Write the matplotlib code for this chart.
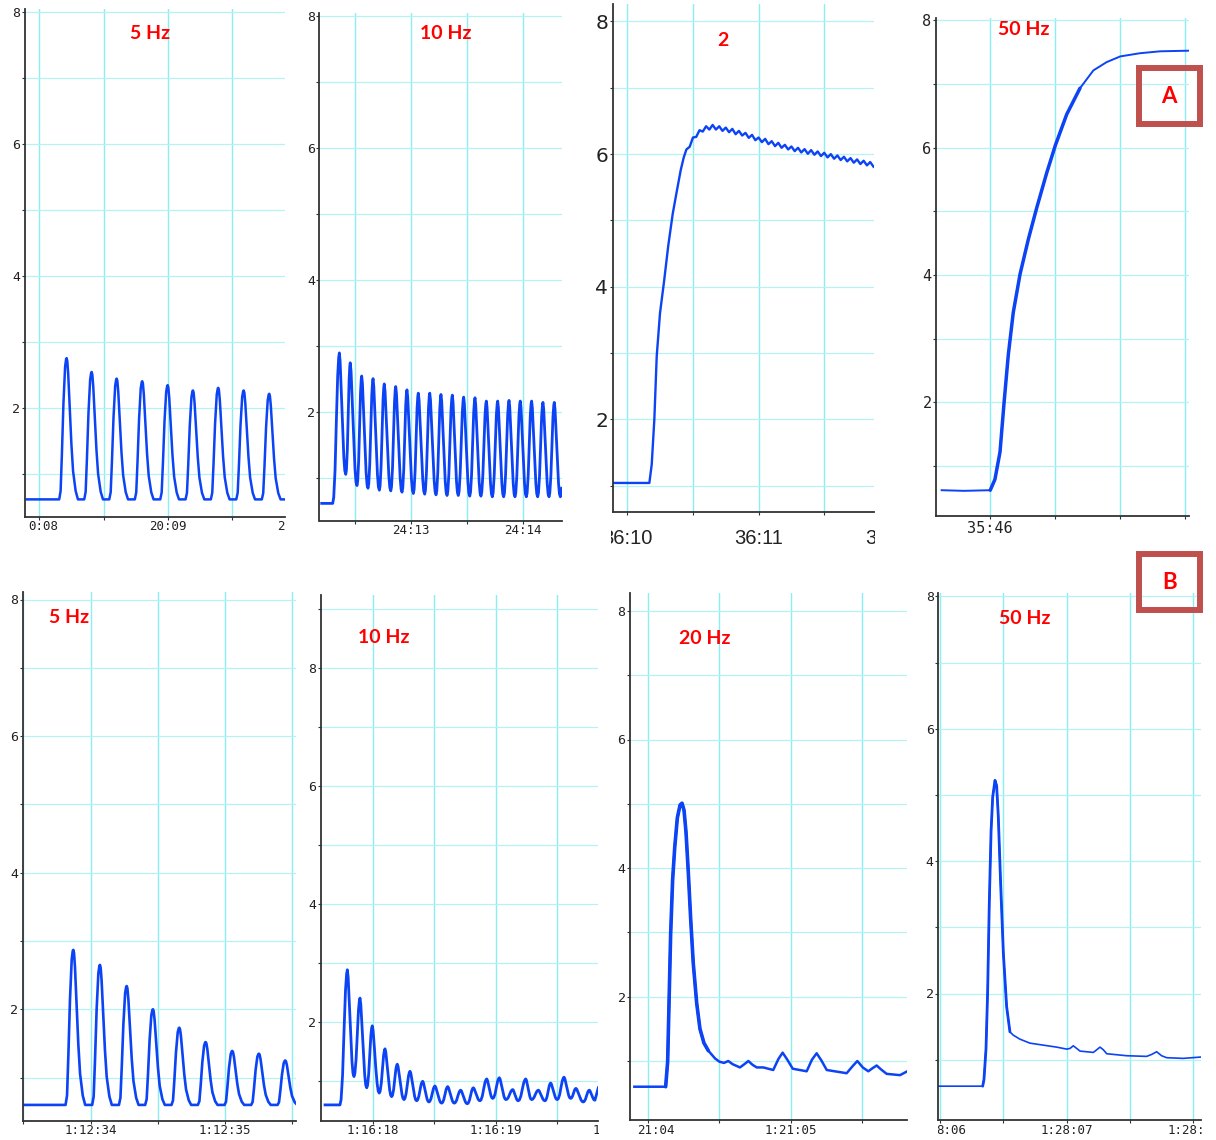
import numpy as np
import matplotlib

matplotlib.use("Agg")

import matplotlib.pyplot as plt
from matplotlib.ticker import MultipleLocator, FuncFormatter
from matplotlib.transforms import (Bbox, TransformedBbox, ScaledTranslation,
                                   blended_transform_factory)
from matplotlib.patches import Rectangle

W, H = 1216, 1140

TRACE = "#0b43f5"
HGRID = "#b6f1f3"
VGRID = "#8aeef2"
SPINE = "#333333"
RED = "#ff0000"
BOX = "#c0504d"

# --- pulse shape read from one isolated 5 Hz pulse (s from peak, fraction of height)
PULSE_DT = [-0.058, -0.047, -0.037, -0.025, -0.012, -0.004, 0.0,
            0.005, 0.012, 0.025, 0.037, 0.05, 0.07, 0.088]
PULSE_FRAC = [0.0, 0.06, 0.32, 0.68, 0.94, 0.995, 1.0,
              0.98, 0.89, 0.63, 0.39, 0.2, 0.06, 0.0]

# --- 10 Hz cycle shape: fall peak->trough and rise trough->peak
FALL_F = [0.0, 0.12, 0.3, 0.5, 0.7, 0.85, 1.0]
FALL_V = [1.0, 0.93, 0.68, 0.38, 0.14, 0.03, 0.0]
RISE_F = [0.0, 0.15, 0.35, 0.55, 0.75, 0.9, 1.0]
RISE_V = [0.0, 0.04, 0.22, 0.55, 0.85, 0.97, 1.0]

# --- A, 5 Hz
A1_BASE = 0.62
A1_PEAK_T = [0.213, 0.408, 0.603, 0.802, 1.0, 1.197, 1.394, 1.592, 1.791]
A1_PEAK_V = [2.76, 2.55, 2.45, 2.41, 2.35, 2.27, 2.31, 2.27, 2.22]

# --- A, 10 Hz
A2_BASE = 0.62
A2_PEAK_T = [-0.638, -0.541, -0.439, -0.338, -0.238, -0.136, -0.036, 0.065, 0.167, 0.267,
             0.368, 0.469, 0.570, 0.671, 0.772, 0.873, 0.973, 1.074, 1.175, 1.276]
A2_PEAK_V = [2.90, 2.75, 2.55, 2.51, 2.43, 2.39, 2.34, 2.29, 2.29, 2.27,
             2.26, 2.23, 2.22, 2.17, 2.17, 2.18, 2.17, 2.17, 2.15, 2.15]
A2_TROUGH_T = [-0.581, -0.481, -0.383, -0.282, -0.180, -0.080, 0.021, 0.122, 0.223, 0.321,
               0.421, 0.523, 0.623, 0.724, 0.825, 0.926, 1.027, 1.128, 1.229, 1.330]
A2_TROUGH_V = [1.06, 0.89, 0.85, 0.82, 0.81, 0.79, 0.77, 0.76, 0.75, 0.74,
               0.74, 0.73, 0.73, 0.72, 0.72, 0.72, 0.72, 0.72, 0.72, 0.72]

# --- A, 20 Hz (rise, then rippled plateau)
A3_RISE_T = [-0.11, 0.168, 0.186, 0.206, 0.224, 0.249, 0.280, 0.312, 0.346, 0.376, 0.407, 0.43]
A3_RISE_V = [1.04, 1.04, 1.32, 2.0, 2.95, 3.6, 4.08, 4.62, 5.1, 5.43, 5.76, 5.95]
A3_RIPPLE_V = [6.07, 6.11, 6.25, 6.26, 6.36, 6.34, 6.42, 6.37, 6.44, 6.37,
               6.42, 6.35, 6.40, 6.33, 6.38, 6.30, 6.35, 6.28, 6.32, 6.245,
               6.29, 6.21, 6.25, 6.18, 6.23, 6.15, 6.195, 6.12, 6.17, 6.095,
               6.14, 6.07, 6.115, 6.045, 6.095, 6.025, 6.075, 6.005, 6.06, 5.99,
               6.04, 5.97, 6.02, 5.95, 6.00, 5.93, 5.98, 5.91, 5.96, 5.89,
               5.94, 5.87, 5.92, 5.85, 5.90, 5.83, 5.88, 5.81]
A3_RIPPLE_T0, A3_RIPPLE_STEP = 0.45, 0.025

# --- A, 50 Hz
A4_T = [-0.372, -0.2, 0.002, 0.038, 0.077, 0.108, 0.141, 0.179, 0.231, 0.295, 0.359,
        0.436, 0.502, 0.590, 0.692, 0.795, 0.897, 1.002, 1.154, 1.308, 1.533]
A4_V = [0.62, 0.61, 0.62, 0.79, 1.22, 1.99, 2.75, 3.41, 4.01, 4.56, 5.05,
        5.60, 6.03, 6.52, 6.93, 7.21, 7.34, 7.43, 7.48, 7.51, 7.52]

# --- B, 5 Hz
B1_BASE = 0.60
B1_PEAK_T = [-0.129, 0.069, 0.268, 0.463, 0.659, 0.855, 1.053, 1.251, 1.447]
B1_PEAK_V = [2.87, 2.65, 2.34, 2.0, 1.73, 1.52, 1.39, 1.35, 1.25]

# --- B, 10 Hz
B2_BASE = 0.60
B2_PEAK_T = [-0.209, -0.106, -0.006, 0.098, 0.198, 0.302, 0.405, 0.505, 0.609, 0.715,
             0.818, 0.927, 1.030, 1.139, 1.245, 1.348, 1.448, 1.557, 1.654, 1.763]
B2_PEAK_V = [2.89, 2.41, 1.94, 1.55, 1.29, 1.17, 1.0, 0.92, 0.91, 0.85,
             0.89, 1.04, 1.06, 0.86, 1.04, 0.85, 0.97, 1.07, 0.88, 0.85]
B2_TROUGH_T = [-0.155, -0.051, 0.051, 0.152, 0.253, 0.356, 0.456, 0.560, 0.663, 0.769,
               0.872, 0.976, 1.084, 1.184, 1.293, 1.402, 1.502, 1.611, 1.714, 1.809]
B2_TROUGH_V = [1.08, 0.89, 0.80, 0.74, 0.69, 0.67, 0.65, 0.63, 0.63, 0.62,
               0.67, 0.71, 0.69, 0.67, 0.69, 0.67, 0.69, 0.71, 0.65, 0.68]

# --- B, 20 Hz
B3_T = [-0.098, 0.122, 0.136, 0.145, 0.157, 0.171, 0.186, 0.204, 0.223, 0.237, 0.251,
        0.265, 0.281, 0.298, 0.316, 0.340, 0.363, 0.391, 0.422, 0.469, 0.499, 0.532,
        0.562, 0.593, 0.644, 0.675, 0.703, 0.733, 0.762, 0.808, 0.878, 0.914, 0.944,
        0.977, 1.015, 1.113, 1.150, 1.183, 1.216, 1.254, 1.394, 1.436, 1.469, 1.507,
        1.546, 1.577, 1.605, 1.635, 1.675, 1.769, 1.820]
B3_V = [0.60, 0.60, 0.99, 1.84, 2.97, 3.82, 4.33, 4.78, 4.98, 5.01, 4.90,
        4.56, 3.94, 3.20, 2.52, 1.90, 1.50, 1.28, 1.16, 1.04, 0.99, 0.97,
        1.00, 0.95, 0.90, 0.95, 1.00, 0.94, 0.90, 0.90, 0.86, 1.03, 1.13,
        1.02, 0.88, 0.84, 1.02, 1.12, 1.01, 0.86, 0.81, 0.92, 1.00, 0.90,
        0.84, 0.89, 0.93, 0.87, 0.80, 0.78, 0.84]

# --- B, 50 Hz
B4_T = [-0.01, 0.337, 0.347, 0.363, 0.376, 0.389, 0.403, 0.416, 0.434, 0.447, 0.460,
        0.479, 0.500, 0.526, 0.552, 0.579, 0.631, 0.710, 0.815, 0.921, 1.0, 1.026,
        1.052, 1.079, 1.105, 1.210, 1.237, 1.263, 1.289, 1.316, 1.473, 1.631, 1.671,
        1.710, 1.749, 1.789, 1.920, 2.058]
B4_V = [0.60, 0.60, 0.70, 1.16, 2.03, 3.36, 4.45, 4.97, 5.22, 5.14, 4.68,
        3.64, 2.61, 1.80, 1.42, 1.37, 1.31, 1.25, 1.22, 1.19, 1.16, 1.17,
        1.21, 1.17, 1.13, 1.11, 1.15, 1.19, 1.15, 1.09, 1.06, 1.05, 1.08,
        1.12, 1.06, 1.03, 1.02, 1.04]

# --- tick labels of the time axes (keep: chars left visible by the cropped panel)
A1_XT, A1_XL, A1_KEEP = [0, 1, 2], ["20:08", "20:09", "20:10"], [-4, None, 1]
A2_XT, A2_XL, A2_KEEP = [0, 1], ["24:13", "24:14"], [None, None]
A3_XT, A3_XL, A3_KEEP = [0, 1, 2], ["36:10", "36:11", "36:12"], [None, None, None]
A4_XT, A4_XL, A4_KEEP = [0], ["35:46"], [None]
B1_XT, B1_XL, B1_KEEP = [0, 1], ["1:12:34", "1:12:35"], [None, None]
B2_XT, B2_XL, B2_KEEP = [0, 1, 2], ["1:16:18", "1:16:19", "1:16:20"], [None, None, 2]
B3_XT, B3_XL, B3_KEEP = [0, 1, 2], ["1:21:04", "1:21:05", "1:21:06"], [-5, None, 2]
B4_XT, B4_XL, B4_KEEP = [0, 1, 2], ["1:28:06", "1:28:07", "1:28:08"], [-4, None, 5]

MONO = ["DejaVu Sans Mono"]
NARROW = ["Liberation Sans Narrow", "Liberation Sans", "DejaVu Sans"]
TITLE_FONT = ["Lato", "DejaVu Sans"]

# layout in pixels: box (l, t, r, b), x of t=0, px per s, y of value 2, px per unit
LAYOUT = {
    "A1": dict(box=(24.5, 9, 285, 516.7), x0=39.3, pps=128.4, y2=408.3, ppu=66.0,
               lab_y=526.7, clip=(26, 286), font=MONO, fs=9, yfs=9.5,
               title=("5 Hz", 150.3, 33.4)),
    "A2": dict(box=(319.5, 13, 561.7, 521), x0=411, pps=112.3, y2=412.3, ppu=66.0,
               lab_y=531, clip=(318, 563), font=MONO, fs=9, yfs=9.5,
               title=("10 Hz", 446, 33.4)),
    "A3": dict(box=(612.7, 4.3, 874, 511.7), x0=627.3, pps=131.3, y2=419.3, ppu=66.3,
               lab_y=538, clip=(611, 875), font=NARROW, fs=14.5, yfs=14.5,
               title=("2", 723.3, 40.4)),
    "A4": dict(box=(936, 18, 1189.3, 516), x0=990, pps=130.0, y2=402.3, ppu=63.7,
               lab_y=528.3, clip=(930, 1195), font=MONO, fs=11, yfs=11,
               title=("50 Hz", 1024, 29.8)),
    "B1": dict(box=(22.7, 592, 296, 1121), x0=90.7, pps=134.5, y2=1009.3, ppu=68.3,
               lab_y=1130.7, clip=(20, 297), font=MONO, fs=9, yfs=9.5,
               title=("5 Hz", 68.7, 617.7)),
    "B2": dict(box=(320.7, 594.5, 598.3, 1121), x0=373, pps=122.7, y2=1022.3, ppu=59.0,
               lab_y=1130.7, clip=(318, 599), font=MONO, fs=9, yfs=9.5,
               title=("10 Hz", 383.8, 637.5)),
    "B3": dict(box=(630, 593, 907.3, 1120), x0=648.3, pps=142.3, y2=996.7, ppu=64.3,
               lab_y=1130.7, clip=(632, 908), font=MONO, fs=9, yfs=9.5,
               title=("20 Hz", 705, 638.3)),
    "B4": dict(box=(938.3, 592.8, 1200.7, 1119.8), x0=940, pps=126.7, y2=993.5, ppu=66.2,
               lab_y=1130.7, clip=(937.5, 1201.5), font=MONO, fs=9, yfs=9.5,
               title=("50 Hz", 1024.5, 618.5)),
}


# Build a train of isolated pulses from peak times/heights
def pulse_train(t_start, base, peak_t, peak_v):
    ts, vs = [t_start], [base]
    for tp, vp in zip(peak_t, peak_v):
        for d, f in zip(PULSE_DT, PULSE_FRAC):
            ts.append(tp + d)
            vs.append(base + f * (vp - base))
    return ts, vs


# Build an oscillating train from peaks and troughs
def osc_train(t_start, t_rise, base, peak_t, peak_v, trough_t, trough_v, end):
    ts, vs = [t_start, t_rise], [base, base]
    prev_t, prev_v = t_rise, base
    for tp, vp, tt, vt in zip(peak_t, peak_v, trough_t, trough_v):
        for f, g in zip(RISE_F[1:], RISE_V[1:]):
            ts.append(prev_t + f * (tp - prev_t))
            vs.append(prev_v + g * (vp - prev_v))
        for f, g in zip(FALL_F[1:], FALL_V[1:]):
            ts.append(tp + f * (tt - tp))
            vs.append(vt + g * (vp - vt))
        prev_t, prev_v = tt, vt
    ts.append(end[0])
    vs.append(end[1])
    return ts, vs


def make_panel(fig, key):
    lay = LAYOUT[key]
    l, t, r, b = lay["box"]
    ax = fig.add_axes([l / W, 1 - b / H, (r - l) / W, (b - t) / H])
    ax.set_xlim((l - lay["x0"]) / lay["pps"], (r - lay["x0"]) / lay["pps"])
    ax.set_ylim(2 - (b - lay["y2"]) / lay["ppu"], 2 + (lay["y2"] - t) / lay["ppu"])

    ax.xaxis.set_major_locator(MultipleLocator(1.0))
    ax.xaxis.set_minor_locator(MultipleLocator(0.5))
    ax.yaxis.set_major_locator(MultipleLocator(1.0))
    ax.yaxis.set_major_formatter(FuncFormatter(
        lambda v, p: str(int(round(v))) if int(round(v)) % 2 == 0 else ""))

    ax.grid(True, which="major", axis="y", color=HGRID, lw=0.9)
    ax.grid(True, which="both", axis="x", color=VGRID, lw=1.0)
    ax.set_axisbelow(True)

    for s in ["top", "right"]:
        ax.spines[s].set_visible(False)
    for s in ["left", "bottom"]:
        ax.spines[s].set_color(SPINE)
        ax.spines[s].set_linewidth(1.3)

    ax.tick_params(axis="x", which="both", direction="out", length=2.5,
                   width=0.8, color=SPINE, labelbottom=False)
    ax.tick_params(axis="y", which="major", direction="out", length=2.2,
                   width=0.8, color=SPINE, pad=1, labelsize=lay["yfs"],
                   labelcolor="#222222", labelfontfamily=lay["font"][0])

    name, tx, ty = lay["title"]
    fig.text(tx / W, 1 - ty / H, name, color=RED, fontsize=14, fontweight="bold",
             family=TITLE_FONT, ha="center", va="center")
    return ax


def time_labels(fig, ax, key, ticks, labels, keep):
    lay = LAYOUT[key]
    base = blended_transform_factory(ax.transData, fig.transFigure)
    c0, c1 = lay["clip"]
    clip = TransformedBbox(Bbox.from_extents(c0 / W, 0, c1 / W, 1), fig.transFigure)
    for tk, lab, k in zip(ticks, labels, keep):
        # monospace: full label width in points, to keep cropped parts in place
        half = 0.602 * lay["fs"] * len(lab) / 2
        if k is None:
            s, ha, dx = lab, "center", 0
        elif k < 0:
            s, ha, dx = lab[k:], "right", half
        else:
            s, ha, dx = lab[:k], "left", -half
        trans = base + ScaledTranslation(dx / 72, 0, fig.dpi_scale_trans)
        txt = fig.text(tk, 1 - lay["lab_y"] / H, s, transform=trans,
                       ha=ha, va="center", fontsize=lay["fs"],
                       family=lay["font"], color="#222222")
        txt.set_clip_box(clip)
        txt.set_clip_on(True)


def corner_box(fig, letter, l, t, r, b):
    inset = 3
    fig.add_artist(Rectangle(((l + inset) / W, 1 - (b - inset) / H),
                             (r - l - 2 * inset) / W, (b - t - 2 * inset) / H,
                             transform=fig.transFigure, fill=False,
                             edgecolor=BOX, lw=4.3, zorder=5))
    fig.text((l + r) / 2 / W, 1 - (t + b) / 2 / H, letter, color=RED,
             fontsize=16, fontweight="bold", family=TITLE_FONT,
             ha="center", va="center", zorder=6)


fig = plt.figure(figsize=(W / 100, H / 100), dpi=100)
fig.patch.set_facecolor("white")

# A, 5 Hz
ax = make_panel(fig, "A1")
ts, vs = pulse_train(-0.098, A1_BASE, A1_PEAK_T, A1_PEAK_V)
ts.append(1.913)
vs.append(A1_BASE)
ax.plot(ts, vs, color=TRACE, lw=1.8)
time_labels(fig, ax, "A1", A1_XT, A1_XL, A1_KEEP)

# A, 10 Hz
ax = make_panel(fig, "A2")
ts, vs = osc_train(-0.795, -0.697, A2_BASE, A2_PEAK_T, A2_PEAK_V,
                   A2_TROUGH_T, A2_TROUGH_V, (1.342, 0.85))
ax.plot(ts, vs, color=TRACE, lw=2.0)
time_labels(fig, ax, "A2", A2_XT, A2_XL, A2_KEEP)

# A, 20 Hz
ax = make_panel(fig, "A3")
rip_t = A3_RIPPLE_T0 + A3_RIPPLE_STEP * np.arange(len(A3_RIPPLE_V))
ax.plot(list(A3_RISE_T) + list(rip_t), A3_RISE_V + A3_RIPPLE_V, color=TRACE, lw=1.7)
time_labels(fig, ax, "A3", A3_XT, A3_XL, A3_KEEP)

# A, 50 Hz
ax = make_panel(fig, "A4")
ax.plot(A4_T, A4_V, color=TRACE, lw=1.4)
a4t, a4v = np.array(A4_T), np.array(A4_V)
m = (a4t >= 0.0) & (a4t <= 0.75)
ax.plot(a4t[m], a4v[m], color=TRACE, lw=2.5, solid_capstyle="round",
        solid_joinstyle="round")
time_labels(fig, ax, "A4", A4_XT, A4_XL, A4_KEEP)

# B, 5 Hz
ax = make_panel(fig, "B1")
ts, vs = pulse_train(-0.496, B1_BASE, B1_PEAK_T, B1_PEAK_V)
ax.plot(ts, vs, color=TRACE, lw=1.9)
time_labels(fig, ax, "B1", B1_XT, B1_XL, B1_KEEP)

# B, 10 Hz
ax = make_panel(fig, "B2")
ts, vs = osc_train(-0.391, -0.269, B2_BASE, B2_PEAK_T, B2_PEAK_V,
                   B2_TROUGH_T, B2_TROUGH_V, (1.836, 0.89))
ax.plot(ts, vs, color=TRACE, lw=2.0)
time_labels(fig, ax, "B2", B2_XT, B2_XL, B2_KEEP)

# B, 20 Hz
ax = make_panel(fig, "B3")
ax.plot(B3_T, B3_V, color=TRACE, lw=1.8, solid_joinstyle="round")
b3t, b3v = np.array(B3_T), np.array(B3_V)
m = (b3t >= 0.12) & (b3t <= 0.45)
ax.plot(b3t[m], b3v[m], color=TRACE, lw=2.6, solid_capstyle="round",
        solid_joinstyle="round")
time_labels(fig, ax, "B3", B3_XT, B3_XL, B3_KEEP)

# B, 50 Hz
ax = make_panel(fig, "B4")
ax.plot(B4_T, B4_V, color=TRACE, lw=1.2, solid_joinstyle="round")
b4t, b4v = np.array(B4_T), np.array(B4_V)
m = (b4t >= 0.33) & (b4t <= 0.56)
ax.plot(b4t[m], b4v[m], color=TRACE, lw=2.0, solid_capstyle="round",
        solid_joinstyle="round")
time_labels(fig, ax, "B4", B4_XT, B4_XL, B4_KEEP)

corner_box(fig, "A", 1136, 65.3, 1202.7, 127.3)
corner_box(fig, "B", 1136, 551.5, 1202.7, 612.7)

fig.savefig("out.png", dpi=100, facecolor="white")
plt.close(fig)
